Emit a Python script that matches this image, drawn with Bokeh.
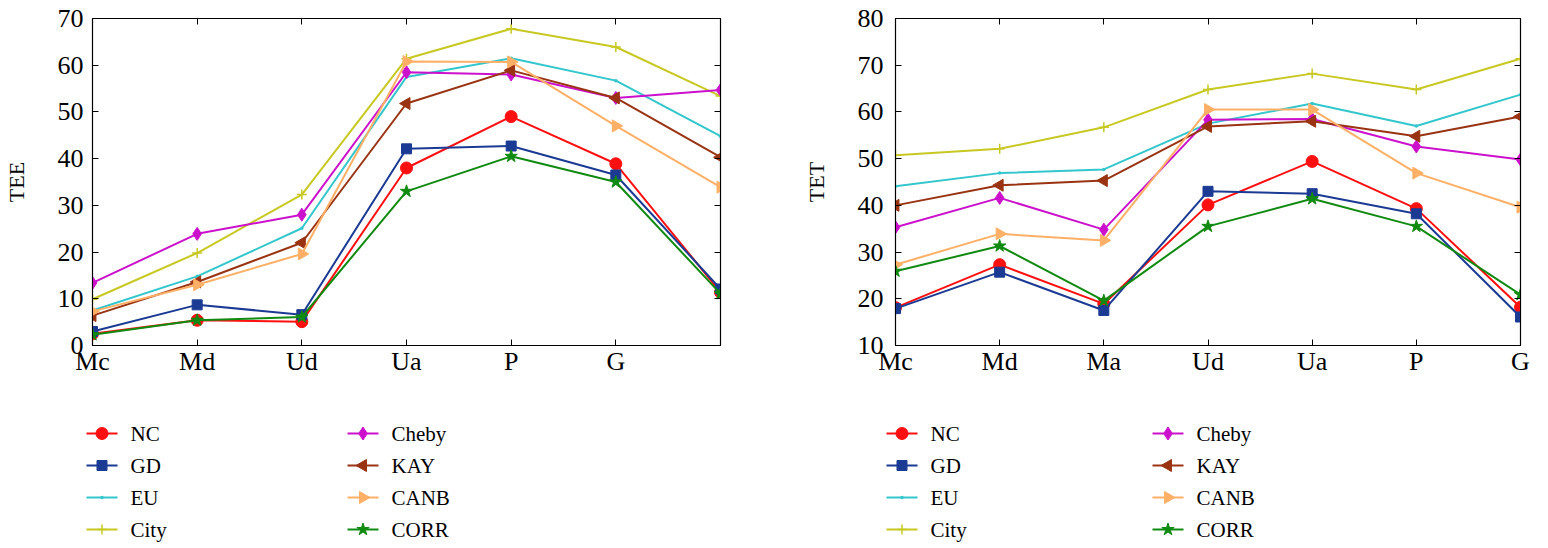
import math
from bokeh.plotting import figure
from bokeh.models import FixedTicker, LinearAxis, Range1d
from bokeh.core.properties import value
from bokeh.layouts import column, row
from bokeh.embed import file_html
from bokeh.resources import INLINE

# ---------------- data ----------------
series_names = ["NC", "GD", "EU", "City", "Cheby", "KAY", "CANB", "CORR"]

left_labels = ["Mc", "Md", "Ud", "Ua", "P", "G", ""]
right_labels = ["Mc", "Md", "Ma", "Ud", "Ua", "P", "G"]

left_yticks = [0, 10, 20, 30, 40, 50, 60, 70]
right_yticks = [10, 20, 30, 40, 50, 60, 70, 80]

tee_nc = [2.5, 5.4, 5.1, 38.0, 49.0, 38.9, 11.4]
tee_gd = [3.0, 8.7, 6.6, 42.1, 42.7, 36.5, 12.1]
tee_eu = [7.5, 14.8, 25.1, 57.5, 61.5, 56.7, 44.8]
tee_city = [9.9, 19.8, 32.3, 61.4, 67.8, 63.9, 53.4]
tee_cheby = [13.4, 23.9, 28.0, 58.5, 58.0, 53.0, 54.7]
tee_kay = [6.4, 13.6, 22.0, 51.8, 58.9, 53.0, 40.3]
tee_canb = [7.3, 13.0, 19.6, 60.8, 60.7, 47.0, 33.9]
tee_corr = [2.3, 5.4, 6.1, 33.0, 40.5, 35.0, 11.1]

tet_nc = [18.1, 27.3, 18.9, 40.1, 49.4, 39.3, 18.2]
tet_gd = [17.9, 25.7, 17.5, 43.0, 42.5, 38.2, 16.1]
tet_eu = [44.1, 46.9, 47.7, 57.5, 61.8, 57.0, 63.7]
tet_city = [50.7, 52.1, 56.7, 64.8, 68.2, 64.8, 71.4]
tet_cheby = [35.3, 41.6, 34.8, 58.3, 58.5, 52.6, 49.8]
tet_kay = [40.0, 44.3, 45.3, 56.9, 58.0, 54.8, 59.0]
tet_canb = [27.3, 33.9, 32.5, 60.5, 60.5, 46.9, 39.6]
tet_corr = [25.9, 31.3, 19.6, 35.5, 41.4, 35.5, 20.9]

tee = [tee_nc, tee_gd, tee_eu, tee_city, tee_cheby, tee_kay, tee_canb, tee_corr]
tet = [tet_nc, tet_gd, tet_eu, tet_city, tet_cheby, tet_kay, tet_canb, tet_corr]

# ---------------- styles ----------------
colors = ["#FF1010", "#1B3A93", "#33C6CC", "#C8C822", "#CC11CC", "#993311", "#FFB066", "#118A11"]
markers = ["circle", "square", "dot", "cross", "diamond", "triangle", "triangle", "star"]
sizes = [12, 10, 14, 10, 13, 12, 12, 13]
angles = [0, 0, 0, 0, 0, math.pi / 2, -math.pi / 2, 0]

FONT = "Liberation Serif"
TICK_FS = "26px"
LABEL_FS = "22px"
LEG_FS = "21px"

# legend layout (pixels inside the legend strip)
LEG_H = 155
LEG_ROW0 = 43      # centre of first row, from top of strip
LEG_PITCH = 32     # row spacing
LEG_GLYPH_W = 31
LEG_TEXT_GAP = 13


def add_series(p, xs, ys, i):
    lr = p.line(xs, ys, line_color=colors[i], line_width=2)
    kw = dict(marker=markers[i], size=sizes[i], line_color=colors[i], fill_color=colors[i],
              angle=angles[i])
    if markers[i] == "cross":
        kw["line_width"] = 1.5
    sr = p.scatter(xs, ys, **kw)
    return lr, sr


def hidden_axis(ticks):
    return LinearAxis(ticker=FixedTicker(ticks=ticks), major_label_text_font_size="1px",
                      major_label_text_color=None, major_tick_in=6, major_tick_out=0,
                      minor_tick_line_color=None, major_label_standoff=0,
                      axis_line_color="black")


def make_fig(width, border_left, border_right, labels, yticks, yrange, ylabel, data, label_standoff):
    p = figure(width=width, height=390, output_backend="svg", toolbar_location=None,
               x_range=Range1d(0, len(labels) - 1), y_range=Range1d(*yrange),
               min_border_left=border_left, min_border_right=border_right,
               min_border_top=18, min_border_bottom=45)
    p.xgrid.visible = False
    p.ygrid.visible = False
    p.outline_line_color = "black"
    p.outline_line_width = 1.2
    p.background_fill_color = "white"
    p.border_fill_color = "white"

    xt = list(range(len(labels)))
    p.xaxis.ticker = FixedTicker(ticks=xt)
    p.xaxis.major_label_overrides = {i: l for i, l in enumerate(labels)}
    p.yaxis.ticker = FixedTicker(ticks=yticks)
    for ax in (p.xaxis[0], p.yaxis[0]):
        ax.major_tick_in = 6
        ax.major_tick_out = 0
        ax.minor_tick_line_color = None
        ax.axis_line_color = "black"
        ax.major_tick_line_color = "black"
        ax.major_label_text_font = FONT
        ax.major_label_text_font_size = TICK_FS
        ax.major_label_text_color = "black"
    p.xaxis.major_label_standoff = 1
    p.yaxis.major_label_standoff = label_standoff
    p.yaxis.axis_label = ylabel
    p.yaxis.axis_label_text_font = FONT
    p.yaxis.axis_label_text_font_size = LABEL_FS
    p.yaxis.axis_label_text_font_style = "normal"
    p.yaxis.axis_label_text_color = "black"
    p.yaxis.axis_label_standoff = 26

    p.add_layout(hidden_axis(yticks), "right")
    p.add_layout(hidden_axis(xt), "above")

    for i in range(len(series_names)):
        add_series(p, xt, data[i], i)
    return p


def make_legend_fig(width, col_x):
    lp = figure(width=width, height=LEG_H, output_backend="svg", toolbar_location=None,
                x_range=Range1d(0, width), y_range=Range1d(0, LEG_H),
                x_axis_type=None, y_axis_type=None,
                min_border_left=0, min_border_right=0, min_border_top=0, min_border_bottom=0)
    lp.xgrid.visible = False
    lp.ygrid.visible = False
    lp.outline_line_color = None
    lp.background_fill_color = "white"
    lp.border_fill_color = "white"
    for i, name in enumerate(series_names):
        c, r = divmod(i, 4)
        x0 = col_x[c]
        y = LEG_H - (LEG_ROW0 + r * LEG_PITCH)
        xm = x0 + LEG_GLYPH_W / 2
        lp.segment(x0=[x0], y0=[y], x1=[x0 + LEG_GLYPH_W], y1=[y], line_color=colors[i], line_width=2)
        kw = dict(marker=markers[i], size=sizes[i], line_color=colors[i], fill_color=colors[i],
                  angle=angles[i])
        if markers[i] == "cross":
            kw["line_width"] = 1.5
        lp.scatter([xm], [y], **kw)
        lp.text(x=[x0 + LEG_GLYPH_W + LEG_TEXT_GAP], y=[y], text=[name],
                text_font=value(FONT), text_font_size=LEG_FS, text_color="black",
                text_baseline="middle", text_align="left")
    return lp


p1 = make_fig(800, 92, 80, left_labels, left_yticks, (0, 70), "TEE", tee, 9)
p2 = make_fig(740, 93, 20, right_labels, right_yticks, (10, 80), "TET", tet, 12)
l1 = make_legend_fig(800, [86, 347])
l2 = make_legend_fig(740, [86, 352])

layout = column(row(p1, p2), row(l1, l2))
open("out.html", "w").write(file_html(layout, INLINE))
